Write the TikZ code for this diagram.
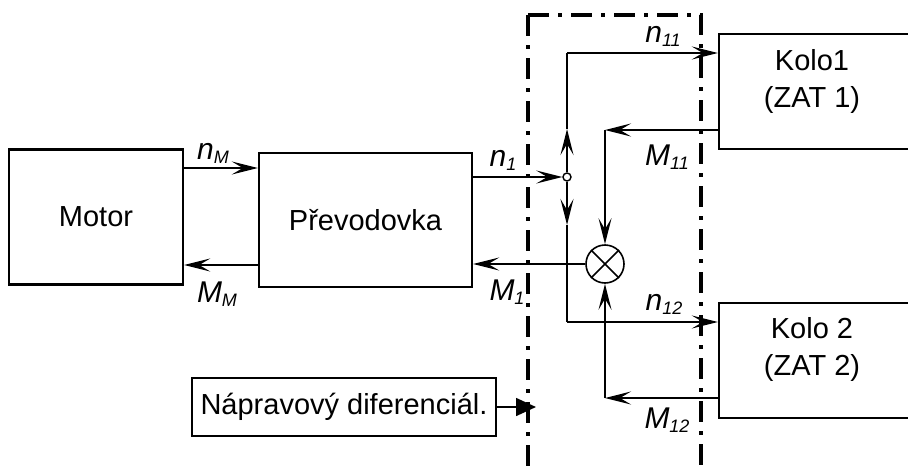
\documentclass[tikz,border=0pt]{standalone}
\usepackage{fontspec}
\setmainfont{Liberation Sans}
\usetikzlibrary{arrows.meta}
\newcommand\myvar[2]{\textit{#1}\raisebox{-4pt}{\fontsize{18}{18}\selectfont\textit{#2}}}
\begin{document}
\begin{tikzpicture}[x=1pt,y=-1pt,
  box/.style={draw, line width=2.4pt, inner sep=0pt, font=\fontsize{29}{37}\selectfont},
  txt/.style={inner sep=0pt, align=center, font=\fontsize{29}{37}\selectfont},
  lab/.style={inner sep=0pt, font=\fontsize{30}{32}\selectfont},
  conn/.style={line width=1.6pt},
  arr/.style={line width=1.6pt, -{Stealth[length=26pt,width=13pt,inset=11pt]}},
  tri/.style={line width=1.6pt, -{Triangle[length=20pt,width=18pt]}},
  frame/.style={line width=4pt, dash pattern=on 21pt off 9pt on 4pt off 9pt}]
\useasboundingbox (0,0) rectangle (908,474);

% boxes
\node[box, minimum width=174pt, minimum height=135pt] (motor) at (96,217) {Motor};
\node[box, minimum width=213pt, minimum height=134pt] (prev) at (365.5,220) {Převodovka};
\node[box, minimum width=196pt, minimum height=115pt] (kolo1) at (817,91.5) {};
\node[box, minimum width=196pt, minimum height=115pt] (kolo2) at (817,360.5) {};
\node[txt] (k1t) at (812,81) {Kolo1\\(ZAT 1)};
\node[txt] (k2t) at (812,349) {Kolo 2\\(ZAT 2)};
\node[box, minimum width=304pt, minimum height=58pt] (nap) at (344,407) {Nápravový diferenciál.};
\node[draw, circle, minimum size=38pt, inner sep=0pt, line width=1.6pt] (X) at (605,264) {};
\draw[conn] (X.north west) -- (X.south east);
\draw[conn] (X.north east) -- (X.south west);
\node[draw, circle, minimum size=8pt, inner sep=0pt, line width=1.4pt, fill=white] (j) at (567,177) {};

% dash-dot frame
\coordinate (fA) at (528,15);
\coordinate (fB) at (528,474);
\coordinate (fC) at (701,15);
\coordinate (fD) at (701,474);
\draw[frame] (fA) -- (fB);
\draw[frame] (fA) -- (fC) -- (fD);

% y levels
\coordinate (yNM) at (0,168);
\coordinate (yMM) at (0,265);
\coordinate (yN1) at (0,177);
\coordinate (yM1) at (0,264);

% connectors
\draw[arr] (motor.east |- yNM) -- (prev.west |- yNM);
\draw[arr] (prev.west |- yMM) -- (motor.east |- yMM);
\draw[arr] (prev.east |- yN1) -- (j.west);

\coordinate (up) at (567,129);
\coordinate (dn) at (567,225);
\coordinate (t1) at (567,53);
\coordinate (t2) at (567,322);
\draw[arr] (j.north) -- (up);
\draw[arr] (j.south) -- (dn);
\draw[conn] (up) -- (t1);
\draw[conn] (dn) -- (t2);
\draw[arr] (t1) -- (kolo1.west |- t1);
\draw[arr] (t2) -- (kolo2.west |- t2);

\coordinate (c1) at (605,130);
\coordinate (c2) at (605,398);
\draw[arr] (kolo1.west |- c1) -- (c1);
\draw[arr] (c1) -- (X.north);
\draw[arr] (kolo2.west |- c2) -- (c2);
\draw[arr] (c2) -- (X.south);
\draw[arr] (X.west) -- (prev.east |- yM1);

\coordinate (napt) at (536,407);
\draw[tri] (nap.east) -- (napt);

% labels
\node[lab] (lnM) at (213,153) {\myvar{n}{M}};
\node[lab] (lMM) at (217,294) {\myvar{M}{M}};
\node[lab] (ln1) at (503,160) {\myvar{n}{1}};
\node[lab] (lM1) at (507,292) {\myvar{M}{1}};
\node[lab] (ln11) at (663,36) {\myvar{n}{11}};
\node[lab] (lM11) at (667,157) {\myvar{M}{11}};
\node[lab] (ln12) at (664,304) {\myvar{n}{12}};
\node[lab] (lM12) at (667,420) {\myvar{M}{12}};
\end{tikzpicture}
\end{document}
